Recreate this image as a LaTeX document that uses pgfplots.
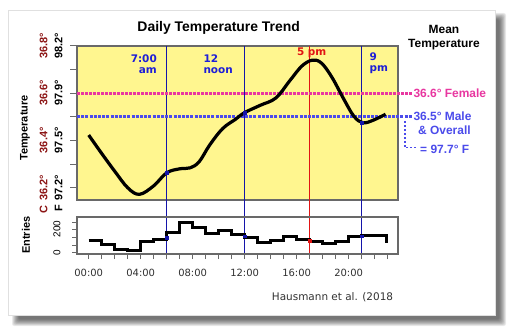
\documentclass[border=0pt]{standalone}
\usepackage{fontspec}
\setmainfont{Liberation Sans}
\newfontfamily\dejavu{DejaVu Sans}
\usepackage{pgfplots}
\pgfplotsset{compat=1.18}
\definecolor{bgyellow}{RGB}{255,246,143}
\definecolor{framegray}{RGB}{105,105,105}
\definecolor{lineblue}{RGB}{20,20,170}
\definecolor{linered}{RGB}{225,20,20}
\definecolor{txtblue}{RGB}{30,30,215}
\definecolor{femalepink}{RGB}{232,55,160}
\definecolor{maleblue}{RGB}{75,75,235}
\definecolor{darkred}{RGB}{140,20,20}
\definecolor{ticktxt}{RGB}{50,50,50}

\begin{document}
\begin{tikzpicture}[x=1bp,y=1bp]
\useasboundingbox (0,0) rectangle (515,333);
% card and its shadow
\foreach \k in {0,...,9} {
  \fill[black, opacity=0.075, rounded corners=2] (12+0.75*\k,7+0.75*\k) rectangle (506-0.75*\k,320-0.75*\k);
}
\fill[white, draw=black!12] (8,18) rectangle (495,323);

% temperature panel
\begin{axis}[
    at={(77bp,133bp)}, anchor=south west, scale only axis,
    width=321bp, height=154bp,
    xmin=-0.9, xmax=23.8, ymin=36.148, ymax=36.8,
    axis background/.style={fill=bgyellow},
    axis line style={framegray, line width=1.2bp},
    xtick=\empty, ytick={36.2,36.3,36.4,36.5,36.6,36.7,36.8}, yticklabels={},
    ytick pos=left, tick align=outside, major tick length=7bp,
    tick style={framegray, line width=1bp},
    clip=false,
]
\draw[lineblue, line width=1.1bp] (axis cs:6,36.8) -- ([yshift=-54bp]axis cs:6,36.148);
\draw[lineblue, line width=1.1bp] (axis cs:12,36.8) -- ([yshift=-54bp]axis cs:12,36.148);
\draw[linered, line width=1.1bp] (axis cs:17,36.8) -- ([yshift=-54bp]axis cs:17,36.148);
\draw[lineblue, line width=1.1bp] (axis cs:21,36.8) -- ([yshift=-54bp]axis cs:21,36.148);
\draw[femalepink, line width=3bp, dash pattern=on 2.6bp off 1.4bp] (axis cs:-0.9,36.6) -- ([xshift=14bp]axis cs:23.8,36.6);
\draw[maleblue, line width=3bp, dash pattern=on 3bp off 1.2bp] (axis cs:-0.9,36.5) -- ([xshift=14bp]axis cs:23.8,36.5);
\addplot[black, line width=3.2bp, smooth, tension=0.6] coordinates {
  (0,36.423) (1,36.345) (2,36.27) (3,36.2) (3.9,36.172) (5,36.208)
  (6,36.263) (7,36.28) (7.8,36.284) (8.5,36.31) (9.3,36.38) (10.3,36.45)
  (11.3,36.49) (12,36.518) (13.2,36.549) (14.4,36.58) (15.5,36.655)
  (16.4,36.715) (17.2,36.74) (17.9,36.728) (18.7,36.669) (19.6,36.578)
  (20.4,36.503) (21.1,36.475) (21.9,36.486) (22.84,36.511)
};
\addplot[only marks, mark=square*, mark size=1.2bp, lineblue] coordinates {(6,36.263) (12,36.518) (21,36.476)};
\end{axis}

% entries panel
\begin{axis}[
    at={(77bp,79bp)}, anchor=south west, scale only axis,
    width=321bp, height=37bp,
    xmin=-0.9, xmax=23.8, ymin=-8.6, ymax=235,
    axis line style={framegray, line width=1.2bp},
    xtick={0,...,23},
    xticklabels={00:00,,,,04:00,,,,08:00,,,,12:00,,,,16:00,,,,20:00,,,},
    ytick={0,50,100,150,200}, yticklabels={},
    xtick pos=bottom, ytick pos=left, tick align=outside, major tick length=5bp,
    tick style={framegray, line width=1bp},
    xticklabel style={font=\dejavu\fontsize{10}{12}\selectfont, text=ticktxt, yshift=-7bp},
    clip=false,
]
\addplot[const plot, black, line width=3bp, line join=miter] coordinates {
  (0,80) (1,53) (2,18) (3,13) (4,72) (5,88) (6,134) (7,200) (8,165) (9,128)
  (10,145) (11,121) (12,97) (13,68) (14,79) (15,105) (16,88) (17,72) (18,59)
  (19,77) (20,105) (21,110) (22,116) (22.9,62)
};
\addplot[only marks, mark=square*, mark size=1.2bp, lineblue] coordinates {(6,100) (12,110) (21,108)};
\addplot[only marks, mark=square*, mark size=1.2bp, linered] coordinates {(17,80)};
\end{axis}

% left tick labels
\begin{scope}[every node/.style={rotate=90, font=\bfseries\fontsize{11}{13}\selectfont}]
\node[text=darkred] at (43.5,333-45.7) {36.8°};
\node at (58.5,333-45.7) {98.2°};
\node[text=darkred] at (43.5,333-93) {36.6°};
\node at (58.5,333-93) {97.9°};
\node[text=darkred] at (43.5,333-140.3) {36.4°};
\node at (58.5,333-140.3) {97.5°};
\node[text=darkred] (c2) at (43.5,333-187.7) {36.2°};
\node[text=darkred, anchor=east, inner sep=1bp] at (c2.west) {C};
\node (f2) at (58.5,333-187.7) {97.2°};
\node[anchor=east, inner sep=1bp] at (f2.west) {F};
\node at (25,333-128) {Temperature};
\node at (26,333-235.3) {Entries};
\end{scope}
\node[rotate=90, font=\fontsize{10}{12}\selectfont] at (57,333-229) {200};
\node[rotate=90, font=\fontsize{10}{12}\selectfont] at (57,333-252.5) {0};

% titles
\node[font=\bfseries\fontsize{14}{16}\selectfont] at (218.7,333-28) {Daily Temperature Trend};
\node[font=\bfseries\fontsize{12}{14}\selectfont, align=center] at (444,333-38) {Mean\\Temperature};

% time labels
\begin{scope}[every node/.style={font=\dejavu\bfseries\fontsize{10.5}{12}\selectfont, inner sep=0}]
\node[text=txtblue, anchor=east] at (157,333-58.3) {7:00};
\node[text=txtblue, anchor=east] at (157,333-70.7) {am};
\node[text=txtblue, anchor=west] at (203.3,333-58.3) {12};
\node[text=txtblue, anchor=west] at (203.3,333-70.7) {noon};
\node[text=linered] at (311.7,333-52.3) {5 pm};
\node[text=txtblue, anchor=west] at (369.5,333-57) {9};
\node[text=txtblue, anchor=west] at (369.5,333-70) {pm};
\end{scope}

% mean temperature notes
\begin{scope}[every node/.style={font=\bfseries\fontsize{12}{14}\selectfont, inner sep=0, anchor=west}]
\node[text=femalepink] at (413.3,333-93.3) {36.6° Female};
\node[text=maleblue] at (413.3,333-116.7) {36.5° Male};
\node[text=maleblue] at (418,333-130.7) {\& Overall};
\node[text=maleblue] at (420,333-149.3) {= 97.7° F};
\end{scope}
\draw[maleblue, line width=1.3bp, dash pattern=on 2bp off 2bp] (405,333-121) -- (405,333-147.7) -- (416,333-147.7);

\node[font=\dejavu\fontsize{10.5}{12}\selectfont, text=ticktxt, anchor=west, inner sep=0] at (271.7,333-297.3) {Hausmann et al. (2018};
\end{tikzpicture}
\end{document}
